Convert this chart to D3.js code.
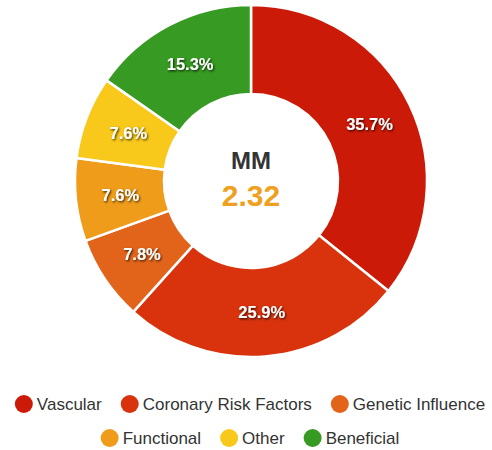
<!DOCTYPE html>
<html>
<head>
<meta charset="utf-8">
<script src="https://cdn.jsdelivr.net/npm/d3@7"></script>
<style>
  body { margin: 0; background: #fff; }
  svg { display: block; font-family: "Liberation Sans", Arial, Helvetica, sans-serif; }
</style>
</head>
<body>
<div id="chart"></div>
<script>
// Data
const categories = ["Vascular", "Coronary Risk Factors", "Genetic Influence", "Functional", "Other", "Beneficial"];
const values = [35.7, 25.9, 7.8, 7.6, 7.6, 15.3];
const colors = ["#cc1a08", "#d9330e", "#e2641a", "#ef9c1a", "#f8c81b", "#379a22"];
const centerTitle = "MM";
const centerValue = "2.32";

const width = 492, height = 450;
const cx = 251, cy = 181;
const outerRadius = 176, innerRadius = 87;

const svg = d3.select("#chart").append("svg")
    .attr("width", width)
    .attr("height", height);

// soft shadow behind the slice labels
const defs = svg.append("defs");
defs.append("filter")
    .attr("id", "shadow")
    .attr("x", "-20%").attr("y", "-40%")
    .attr("width", "140%").attr("height", "180%")
  .append("feDropShadow")
    .attr("dx", 1).attr("dy", 1.2)
    .attr("stdDeviation", 1.3)
    .attr("flood-color", "#000")
    .attr("flood-opacity", 0.8);

const g = svg.append("g")
    .attr("transform", `translate(${cx}, ${cy})`);

const pie = d3.pie().sort(null).value(d => d);
const arcs = pie(values);

const arc = d3.arc()
    .innerRadius(innerRadius)
    .outerRadius(outerRadius);

g.selectAll("path.slice")
    .data(arcs)
    .join("path")
    .attr("class", "slice")
    .attr("d", arc)
    .attr("fill", (d, i) => colors[i])
    .attr("stroke", "#fff")
    .attr("stroke-width", 2.5)
    .attr("stroke-linejoin", "round");

// percentage labels at the slice centroids
g.selectAll("text.pct")
    .data(arcs)
    .join("text")
    .attr("class", "pct")
    .attr("transform", d => `translate(${arc.centroid(d)})`)
    .attr("text-anchor", "middle")
    .attr("dy", "0.36em")
    .attr("font-size", "16.5px")
    .attr("font-weight", "bold")
    .attr("fill", "#fff")
    .attr("filter", "url(#shadow)")
    .text(d => `${d.data.toFixed(1)}%`);

// center text
g.append("text")
    .attr("y", -21)
    .attr("dy", "0.36em")
    .attr("text-anchor", "middle")
    .attr("font-size", "24px")
    .attr("font-weight", "bold")
    .attr("fill", "#333")
    .text(centerTitle);

g.append("text")
    .attr("y", 14)
    .attr("dy", "0.36em")
    .attr("text-anchor", "middle")
    .attr("font-size", "30px")
    .attr("font-weight", "bold")
    .attr("fill", "#f0a020")
    .text(centerValue);

// legend, two centered rows
const rows = [[0, 1, 2], [3, 4, 5]];
const rowY = [404, 438];
const dotR = 9, dotGap = 4, itemGap = 19;

rows.forEach((row, ri) => {
    const rowG = svg.append("g");
    let x = 0;
    row.forEach(i => {
        const item = rowG.append("g");
        item.append("circle")
            .attr("r", dotR)
            .attr("cx", dotR)
            .attr("fill", colors[i]);
        const t = item.append("text")
            .attr("x", dotR * 2 + dotGap)
            .attr("dy", "0.35em")
            .attr("font-size", "17px")
            .attr("fill", "#333")
            .text(categories[i]);
        const w = dotR * 2 + dotGap + t.node().getComputedTextLength();
        item.attr("transform", `translate(${x}, 0)`);
        x += w + itemGap;
    });
    const total = x - itemGap;
    rowG.attr("transform", `translate(${(width - total) / 2 + 4}, ${rowY[ri]})`);
});
</script>
</body>
</html>
